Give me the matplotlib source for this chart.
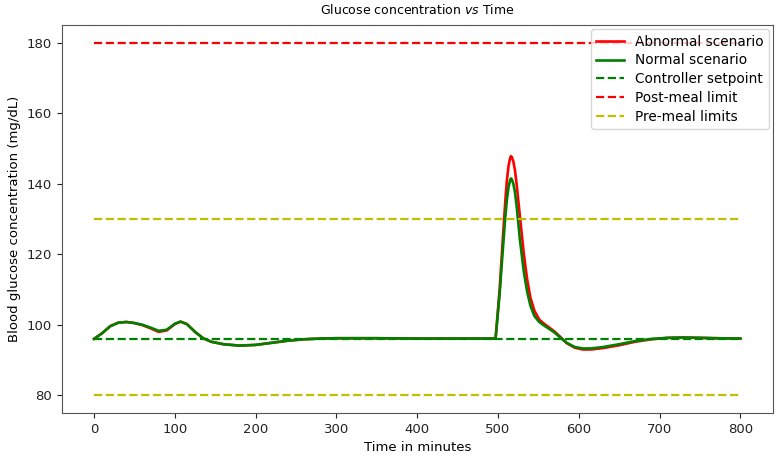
import matplotlib
matplotlib.use("Agg")
import matplotlib.pyplot as plt

plt.rcParams['font.family'] = ['DejaVu Sans']

# Normal scenario (green)
t_normal = [0, 10, 20, 30, 40, 50, 60, 70, 80, 90, 100, 107, 115, 125, 135, 145, 160, 180,
            200, 220, 240, 260, 280, 300, 350, 400, 450, 497, 502, 506, 509, 511, 513, 515, 516,
            517, 519, 521, 523, 527, 532, 536, 540, 545, 551, 557, 563, 570, 577, 585, 595, 605,
            615, 630, 650, 670, 690, 710, 730, 750, 770, 800]
g_normal = [96.0, 97.6, 99.6, 100.6, 100.8, 100.5, 100.0, 99.2, 98.3, 98.6, 100.3, 100.9, 100.2, 98.0,
            96.2, 95.2, 94.5, 94.1, 94.3, 94.9, 95.5, 95.9, 96.1, 96.2, 96.2, 96.1, 96.1, 96.1, 108.7,
            121.4, 130.5, 135.5, 139.0, 141.0, 141.5, 141.3, 140.0, 137.5, 133.8, 124.4, 114.9, 109.5,
            105.5, 102.5, 100.8, 99.8, 98.9, 97.8, 96.4, 94.9, 93.7, 93.3, 93.3, 93.7, 94.5, 95.4,
            96.0, 96.3, 96.4, 96.3, 96.2, 96.1]

# Abnormal scenario (red)
t_abnormal = [0, 10, 20, 30, 40, 50, 60, 70, 80, 90, 100, 107, 115, 125, 135, 145, 160, 180,
              200, 220, 240, 260, 280, 300, 350, 400, 450, 497, 502, 506, 509, 511, 513, 515, 516,
              517, 519, 521, 523, 527, 532, 536, 540, 545, 551, 557, 563, 570, 577, 585, 595, 605,
              615, 630, 650, 670, 690, 710, 730, 750, 770, 800]
g_abnormal = [96.0, 97.6, 99.6, 100.6, 100.8, 100.5, 99.9, 99.0, 98.0, 98.4, 100.2, 100.9, 100.2, 98.0,
              96.2, 95.2, 94.5, 94.1, 94.3, 94.9, 95.5, 95.9, 96.1, 96.2, 96.2, 96.1, 96.1, 96.1, 110.0,
              124.5, 135.0, 141.0, 145.0, 147.3, 147.8, 147.6, 146.3, 143.8, 140.0, 131.0, 120.0, 113.0,
              107.8, 104.0, 101.5, 100.3, 99.3, 98.1, 96.6, 94.8, 93.5, 93.0, 93.0, 93.4, 94.2, 95.2,
              95.9, 96.3, 96.4, 96.3, 96.2, 96.1]

t_range = [0, 800]
setpoint = 96
post_meal_limit = 180
pre_meal_limits = [130, 80]

fig = plt.figure(figsize=(7.77, 4.57), dpi=100)
ax = fig.add_axes([0.0794, 0.0963, 0.9151, 0.849])

ax.plot(t_abnormal, g_abnormal, color='r', lw=1.9, label='Abnormal scenario')
ax.plot(t_normal, g_normal, color='g', lw=1.9, label='Normal scenario')
ax.plot(t_range, [setpoint, setpoint], color='g', ls='--', lw=1.6, label='Controller setpoint')
ax.plot(t_range, [post_meal_limit, post_meal_limit], color='r', ls='--', lw=1.6, label='Post-meal limit')
ax.plot(t_range, [pre_meal_limits[0]] * 2, color='y', ls='--', lw=1.6, label='Pre-meal limits')
ax.plot(t_range, [pre_meal_limits[1]] * 2, color='y', ls='--', lw=1.6)

ax.set_xlim(-40, 840)
ax.set_ylim(75, 185)
ax.set_xticks(range(0, 801, 100))
ax.set_yticks(range(80, 181, 20))
ax.tick_params(labelsize=9.5, colors='#222222')
for s in ax.spines.values():
    s.set_color('#555555')

ax.set_title(r'Glucose concentration $\it{vs}$ Time', fontsize=9, pad=8)
ax.set_xlabel('Time in minutes', fontsize=9.5)
ax.set_ylabel('Blood glucose concentration (mg/dL)', fontsize=9.5)
ax.legend(loc='upper right', fontsize=9.8, labelspacing=0.35, borderaxespad=0.3)

fig.savefig('out.png', dpi=100)
